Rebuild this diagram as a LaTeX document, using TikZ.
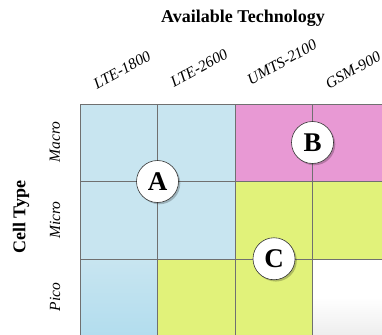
\documentclass[tikz,border=0pt]{standalone}
\usepackage{fontspec}
\setmainfont{Liberation Serif}
\usetikzlibrary{shadows}
\definecolor{cblue}{HTML}{C8E5F0}
\definecolor{cblueb}{HTML}{B2DDEE}
\definecolor{cpink}{HTML}{E899D4}
\definecolor{cyel}{HTML}{E1F27A}
\definecolor{cgrid}{HTML}{707070}
\definecolor{cwhiteb}{HTML}{EDEDED}
\tikzset{
  cell/.style={draw=cgrid, line width=0.9pt, minimum width=77.5pt, minimum height=77.5pt, inner sep=0pt, outer sep=0pt},
  tech/.style={font=\itshape\fontsize{15.5}{18}\selectfont, rotate=29, inner sep=0pt},
  ctype/.style={font=\itshape\fontsize{15.5}{18}\selectfont, rotate=90, inner sep=0pt},
  title/.style={font=\bfseries\fontsize{18}{21}\selectfont, inner sep=0pt},
  badge/.style={circle, draw=black!80, line width=0.6pt, fill=white, minimum size=42pt, inner sep=0pt,
    font=\bfseries\fontsize{27}{29}\selectfont,
    drop shadow={shadow xshift=1.8pt, shadow yshift=-1.8pt, fill=black, opacity=0.22}},
}
\begin{document}
\begin{tikzpicture}[x=1pt, y=-1pt]
\useasboundingbox (0,0) rectangle (382,334);
\fill[white] (0,0) rectangle (382,334);
\begin{scope}
\clip (0,0) rectangle (382,334);
% row 1 (Macro)
\node[cell, fill=cblue] (m1) at (118.75,142.75) {};
\node[cell, fill=cblue] (m2) at (196.25,142.75) {};
\node[cell, fill=cpink] (m3) at (273.75,142.75) {};
\node[cell, fill=cpink] (m4) at (351.25,142.75) {};
% row 2 (Micro)
\node[cell, fill=cblue] (n1) at (118.75,220.25) {};
\node[cell, fill=cblue] (n2) at (196.25,220.25) {};
\node[cell, fill=cyel] (n3) at (273.75,220.25) {};
\node[cell, fill=cyel] (n4) at (351.25,220.25) {};
% row 3 (Pico)
\node[cell, top color=cblue, bottom color=cblueb] (p1) at (118.75,297.75) {};
\node[cell, fill=cyel] (p2) at (196.25,297.75) {};
\node[cell, fill=cyel] (p3) at (273.75,297.75) {};
\node[cell, top color=white, bottom color=cwhiteb, middle color=white] (p4) at (351.25,297.75) {};
\end{scope}
% circles
\node[badge] (A) at (m1.south east) {A};
\node[badge] (B) at (312.5,142.5) {B};
\node[badge] (C) at (274,258.75) {C};
% labels
\node[title] (t) at (243,18) {Available Technology};
\node[tech] (l1) at (122,70) {LTE-1800};
\node[tech] (l2) at (199,68) {LTE-2600};
\node[tech] (l3) at (282,62) {UMTS-2100};
\node[tech] (l4) at (353,70) {GSM-900};
\node[title, rotate=90] (ct) at (21,217) {Cell Type};
\node[ctype] (r1) at (55,142) {Macro};
\node[ctype] (r2) at (55,220) {Micro};
\node[ctype] (r3) at (55,297) {Pico};
\end{tikzpicture}
\end{document}
